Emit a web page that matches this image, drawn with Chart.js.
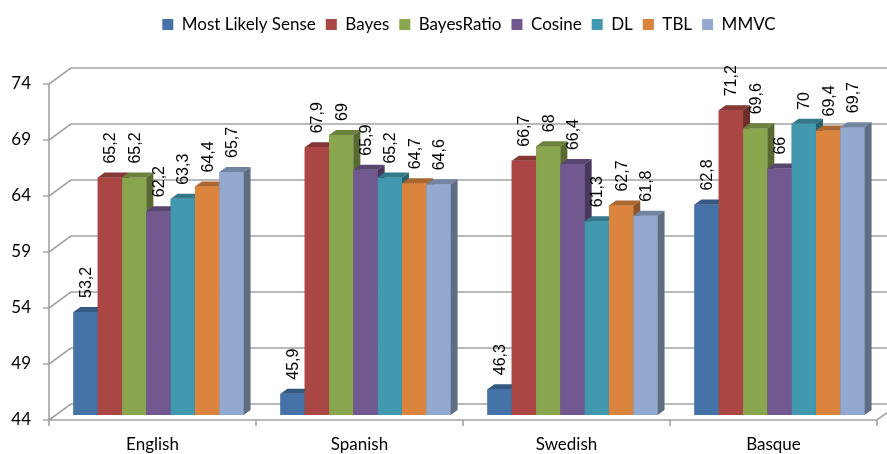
<!DOCTYPE html>
<html>
<head>
<meta charset="utf-8">
<script src="https://cdn.jsdelivr.net/npm/chart.js@4.4.0/dist/chart.umd.min.js"></script>
<style>
  html, body { margin: 0; padding: 0; background: #fff; }
</style>
</head>
<body>
<canvas id="chart" width="887" height="454"></canvas>
<script>
const languages = ['English', 'Spanish', 'Swedish', 'Basque'];
const mostLikely = [53.2, 45.9, 46.3, 62.8];
const bayes = [65.2, 67.9, 66.7, 71.2];
const bayesRatio = [65.2, 69, 68, 69.6];
const cosine = [62.2, 65.9, 66.4, 66];
const dl = [63.3, 65.2, 61.3, 70];
const tbl = [64.4, 64.7, 62.7, 69.4];
const mmvc = [65.7, 64.6, 61.8, 69.7];
const yTicks = [44, 49, 54, 59, 64, 69, 74];

const methods = ['Most Likely Sense', 'Bayes', 'BayesRatio', 'Cosine', 'DL', 'TBL', 'MMVC'];
const series = [mostLikely, bayes, bayesRatio, cosine, dl, tbl, mmvc];
const colors = ['#4572A7', '#AA4643', '#89A54E', '#71588F', '#4198AF', '#DB843D', '#93A9CF'];

// bar depth (px) and wall offsets relative to the bar plane
const DX = 7, DY = 5;
const FRONT_DX = -6, FRONT_DY = 5, BACK_DX = 16, BACK_DY = -11;
const GRID = '#a3a3a3';
const LEGEND_HEIGHT = 73;

function shade(hex, f) {
  const n = parseInt(hex.slice(1), 16);
  const r = Math.round(((n >> 16) & 255) * f);
  const g = Math.round(((n >> 8) & 255) * f);
  const b = Math.round((n & 255) * f);
  return 'rgb(' + r + ',' + g + ',' + b + ')';
}

// keep a fixed gap between the legend row and the plot
const legendGap = {
  id: 'legendGap',
  beforeLayout(chart) {
    const lg = chart.legend;
    if (lg && !lg._gapPatched) {
      const fit = lg.fit;
      lg.fit = function () {
        fit.call(this);
        this.height = LEGEND_HEIGHT;
      };
      lg._gapPatched = true;
    }
  }
};

const walls = {
  id: 'walls',
  beforeDatasetsDraw(chart) {
    const ctx = chart.ctx, area = chart.chartArea, y = chart.scales.y;
    const fx = area.left + FRONT_DX, bx = area.left + BACK_DX;
    const base = y.getPixelForValue(yTicks[0]);
    ctx.save();
    ctx.strokeStyle = GRID;
    ctx.lineWidth = 1.6;
    ctx.beginPath();
    yTicks.forEach(v => {
      const p = y.getPixelForValue(v);
      ctx.moveTo(fx - 6, p + FRONT_DY);
      ctx.lineTo(fx, p + FRONT_DY);
      ctx.moveTo(fx, p + FRONT_DY);
      ctx.lineTo(bx, p + BACK_DY);
      ctx.lineTo(chart.width, p + BACK_DY);
    });
    // front axis, floor edge and category ticks
    ctx.moveTo(fx, y.getPixelForValue(yTicks[yTicks.length - 1]) + FRONT_DY);
    ctx.lineTo(fx, base + FRONT_DY + 4);
    ctx.moveTo(fx, base + FRONT_DY);
    ctx.lineTo(area.right + FRONT_DX, base + FRONT_DY);
    ctx.lineTo(area.right + BACK_DX, base + BACK_DY);
    const step = area.width / languages.length;
    for (let i = 0; i <= languages.length; i++) {
      const x = fx + i * step;
      ctx.moveTo(x, base + FRONT_DY);
      ctx.lineTo(x, base + FRONT_DY + 6);
    }
    ctx.stroke();
    ctx.restore();
  },
  afterDatasetsDraw(chart) {
    const ctx = chart.ctx;
    const floor = chart.scales.y.getPixelForValue(yTicks[0]);
    ctx.save();
    // bars redrawn left to right so each side face sits behind the next bar
    chart.data.datasets.forEach((ds, di) => {
      const meta = chart.getDatasetMeta(di);
      const c = colors[di];
      meta.data.forEach(bar => {
        const l = bar.x - bar.width / 2, r = bar.x + bar.width / 2;
        const t = bar.y, b = floor;
        ctx.fillStyle = c;
        ctx.fillRect(l, t, r - l, b - t);
        ctx.fillStyle = shade(c, 0.78);
        ctx.beginPath();
        ctx.moveTo(l, t); ctx.lineTo(r, t); ctx.lineTo(r + DX, t - DY); ctx.lineTo(l + DX, t - DY);
        ctx.closePath(); ctx.fill();
        ctx.fillStyle = shade(c, 0.64);
        ctx.beginPath();
        ctx.moveTo(r, t); ctx.lineTo(r + DX, t - DY); ctx.lineTo(r + DX, b - DY); ctx.lineTo(r, b);
        ctx.closePath(); ctx.fill();
      });
    });
    // value labels, rotated
    ctx.fillStyle = '#000';
    ctx.font = '16px "Liberation Sans", Arial, sans-serif';
    ctx.textAlign = 'left';
    ctx.textBaseline = 'middle';
    chart.data.datasets.forEach((ds, di) => {
      chart.getDatasetMeta(di).data.forEach((bar, i) => {
        ctx.save();
        ctx.translate(bar.x + 1, bar.y - DY - 9);
        ctx.rotate(-Math.PI / 2);
        ctx.fillText(String(ds.data[i]).replace('.', ','), 0, 0);
        ctx.restore();
      });
    });
    ctx.restore();
  }
};

new Chart(document.getElementById('chart'), {
  type: 'bar',
  data: {
    labels: languages,
    datasets: methods.map((m, i) => ({
      label: m,
      data: series[i],
      backgroundColor: colors[i],
      borderWidth: 0
    }))
  },
  options: {
    responsive: false,
    animation: false,
    devicePixelRatio: 1,
    layout: { padding: { left: 0, right: 4, top: 6, bottom: 0 } },
    datasets: { bar: { barPercentage: 1, categoryPercentage: 0.822 } },
    scales: {
      x: {
        grid: { display: false, drawTicks: false },
        border: { display: false },
        ticks: {
          color: '#000',
          font: { family: 'Lato', size: 17 },
          padding: 19,
          labelOffset: -6
        },
        afterFit(s) { s.height = 39; }
      },
      y: {
        min: 44,
        max: 74,
        grid: { display: false, drawTicks: false },
        border: { display: false },
        ticks: {
          stepSize: 5,
          color: '#000',
          font: { family: 'Lato', size: 17 },
          padding: 24,
          labelOffset: 5
        },
        afterFit(s) { s.width = 55; }
      }
    },
    plugins: {
      legend: {
        position: 'top',
        fullSize: false,
        labels: {
          color: '#000',
          font: { family: 'Lato', size: 17 },
          boxWidth: 11,
          boxHeight: 11,
          padding: 10
        }
      },
      tooltip: { enabled: false }
    }
  },
  plugins: [legendGap, walls]
});
</script>
</body>
</html>
